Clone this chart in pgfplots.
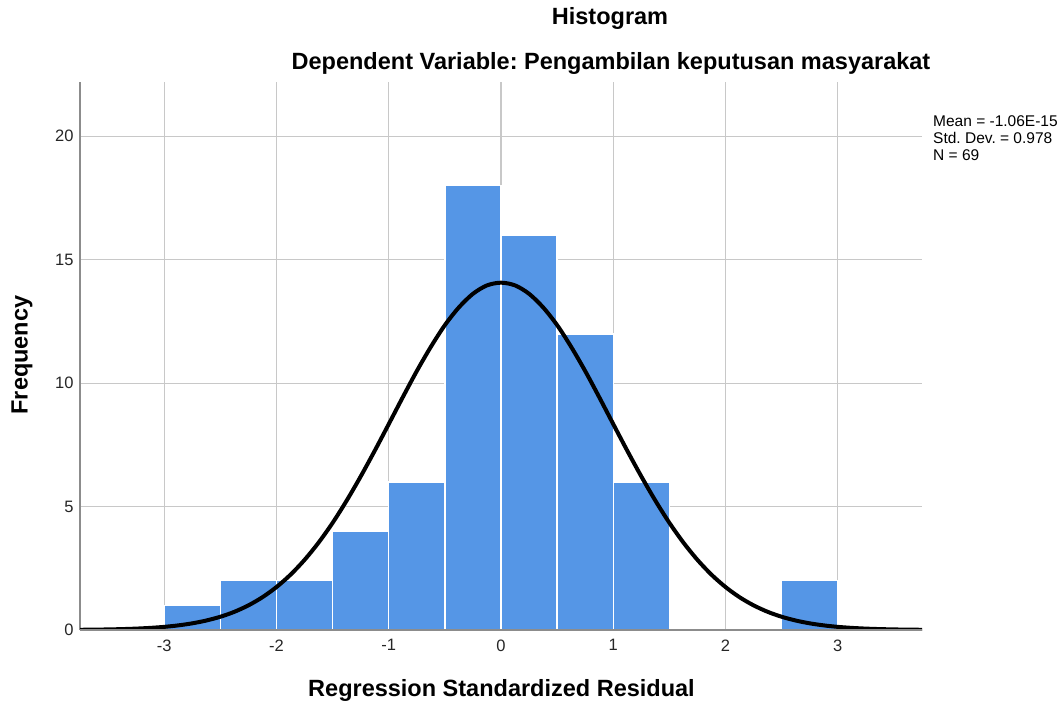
\documentclass[border=0pt]{standalone}
\usepackage{fontspec}
\setmainfont{Liberation Sans}
\usepackage{pgfplots}
\pgfplotsset{compat=1.18}
\definecolor{barblue}{HTML}{5596E6}
\definecolor{axgray}{HTML}{8C8C8C}
\definecolor{gridgray}{HTML}{C8C8C8}
\frenchspacing
\begin{document}
\begin{tikzpicture}[x=1pt,y=1pt]
\useasboundingbox (-80,-79) rectangle (984,630);
\begin{axis}[
  at={(0,0)}, anchor=south west,
  scale only axis, width=842pt, height=548pt,
  xmin=-3.75, xmax=3.75, ymin=0, ymax=22.2,
  axis lines*=left,
  axis line style={axgray, line width=1.5pt},
  xtick={-3,-2,-1,0,1,2,3},
  ytick={0,5,10,15,20},
  grid=major,
  major grid style={gridgray, line width=1.3pt},
  major tick length=0pt,
  tick style={draw=none},
  /pgf/number format/assume math mode=true,
  tick label style={font=\fontsize{16.5}{19}\selectfont, text=black!85},
  xticklabel style={yshift=-6pt},
  yticklabel style={xshift=-3pt},
]
\addplot[ybar interval, fill=barblue, draw=white, line width=1.5pt]
  coordinates {(-3,1) (-2.5,2) (-2,2) (-1.5,4) (-1,6) (-0.5,18) (0,16) (0.5,12) (1,6) (1.5,0)};
\addplot[ybar interval, fill=barblue, draw=white, line width=1.5pt]
  coordinates {(2.5,2) (3,0)};
\addplot[black, line width=4pt, smooth] coordinates {
(-3.75,0.009) (-3.625,0.0146) (-3.5,0.0233) (-3.375,0.0365) (-3.25,0.0563) (-3.125,0.0854)
(-3,0.127) (-2.875,0.187) (-2.75,0.270) (-2.625,0.384) (-2.5,0.536) (-2.375,0.737)
(-2.25,0.998) (-2.125,1.328) (-2,1.74) (-1.875,2.24) (-1.75,2.84) (-1.625,3.54)
(-1.5,4.34) (-1.375,5.24) (-1.25,6.22) (-1.125,7.26) (-1,8.34) (-0.875,9.43)
(-0.75,10.49) (-0.625,11.47) (-0.5,12.35) (-0.375,13.07) (-0.25,13.62) (-0.125,13.96)
(0,14.07)
(0.125,13.96) (0.25,13.62) (0.375,13.07) (0.5,12.35) (0.625,11.47) (0.75,10.49)
(0.875,9.43) (1,8.34) (1.125,7.26) (1.25,6.22) (1.375,5.24) (1.5,4.34)
(1.625,3.54) (1.75,2.84) (1.875,2.24) (2,1.74) (2.125,1.328) (2.25,0.998)
(2.375,0.737) (2.5,0.536) (2.625,0.384) (2.75,0.270) (2.875,0.187) (3,0.127)
(3.125,0.0854) (3.25,0.0563) (3.375,0.0365) (3.5,0.0233) (3.625,0.0146) (3.75,0.009)
};
\draw[axgray, line width=1.5pt] (axis cs:-3.75,0) -- (axis cs:3.75,0);
\end{axis}
\node[font=\bfseries\fontsize{23.5}{27}\selectfont] at (421.5,-60) {Regression Standardized Residual};
\node[font=\bfseries\fontsize{23.5}{27}\selectfont, rotate=90] at (-58,275) {Frequency};
\node[font=\bfseries\fontsize{23.5}{27}\selectfont] at (530,612) {Histogram};
\node[font=\bfseries\fontsize{23.5}{27}\selectfont] at (531,567) {Dependent Variable: Pengambilan keputusan masyarakat};
\node[font=\fontsize{15.5}{18}\selectfont, anchor=west, inner sep=0pt] at (853,509) {Mean = -1.06E-15};
\node[font=\fontsize{15.5}{18}\selectfont, anchor=west, inner sep=0pt] at (853,492) {Std. Dev. = 0.978};
\node[font=\fontsize{15.5}{18}\selectfont, anchor=west, inner sep=0pt] at (853,475) {N = 69};
\end{tikzpicture}
\end{document}
